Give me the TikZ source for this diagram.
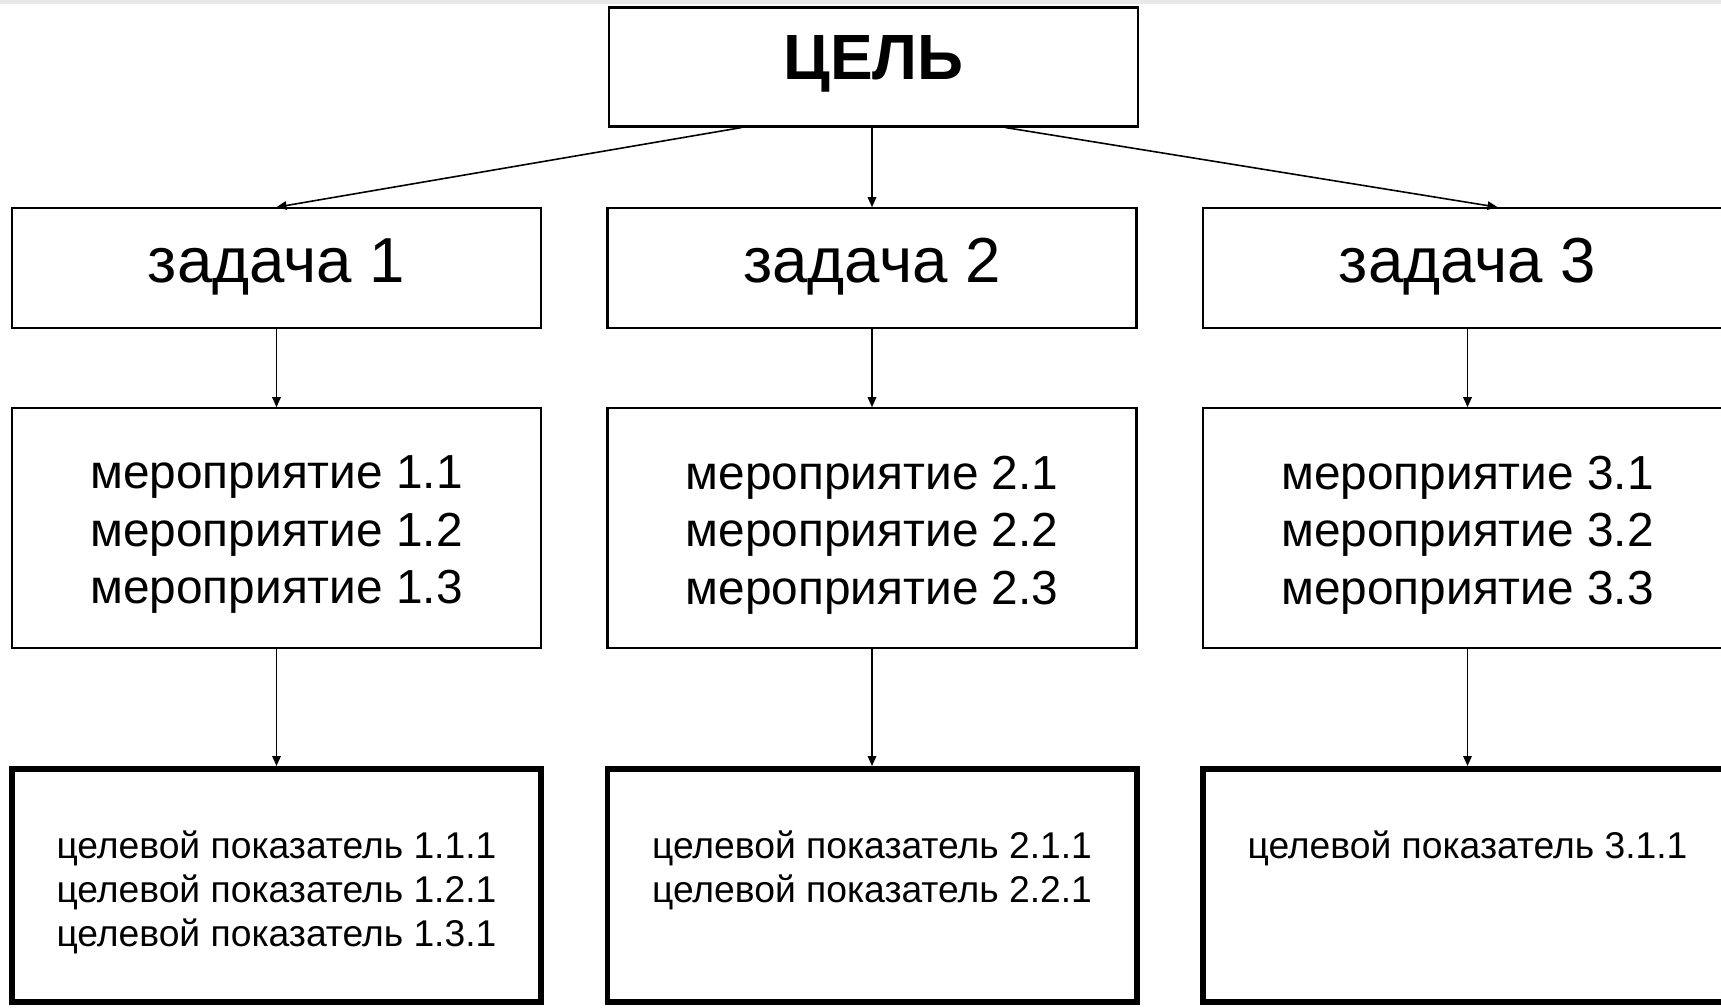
\documentclass[tikz,border=0pt]{standalone}
\usepackage{fontspec}
\setmainfont{Liberation Sans}
\usetikzlibrary{calc, positioning, arrows.meta}

\tikzset{
    thinbox/.style={draw, rectangle, line width=0.6pt, minimum width=5.29cm, inner sep=0pt},
    thickbox/.style={draw, rectangle, line width=1.7pt, minimum width=5.29cm, minimum height=2.33cm, inner sep=0pt},
    arr/.style={-{Triangle[length=1mm, width=0.85mm]}, line width=0.45pt},
    txt/.style={inner sep=0pt, align=left}
}

\begin{document}
\begin{tikzpicture}
    % page frame: 1721 x 1007 px, 0.01 cm per px, right column runs off the page
    \useasboundingbox (0,0) rectangle (17.21,-10.07);
    \clip (0,0) rectangle (17.21,-10.07);
    \fill[gray!18] (0,0) rectangle (17.21,-0.035);

    % ЦЕЛЬ (top): box, bold text a little above centre
    \node[thinbox, minimum height=1.19cm] (goal) at (8.735,-0.67) {};
    \node[txt, anchor=base, font=\bfseries\fontsize{18.2}{20}\selectfont] (goaltext) at (8.735,-0.79) {ЦЕЛЬ};

    % three columns: задача -> мероприятия -> целевые показатели
    \foreach \c/\x in {1/2.765, 2/8.72, 3/14.675} {
        \node[thinbox, minimum height=1.195cm] (task\c) at (\x,-2.68) {};
        \node[txt, anchor=base, font=\fontsize{18.1}{20}\selectfont] (tasktext\c) at (\x,-2.82) {задача \c};

        \node[thinbox, minimum height=2.395cm] (act\c) at (\x,-5.28) {};
        \node[txt, anchor=north, font=\fontsize{13.6}{16.4}\selectfont] (acttext\c) at (\x,-4.55)
            {мероприятие \c.1\\мероприятие \c.2\\мероприятие \c.3};

        \node[thickbox] (ind\c) at (\x,-8.855) {};

        \draw[arr] (task\c) -- (act\c);
        \draw[arr] (act\c) -- (ind\c);
    }

    % indicator texts, hung from the top of each thick box
    \node[txt, anchor=north, font=\fontsize{10.6}{12.5}\selectfont] (indtext1) at ([yshift=-0.64cm] ind1.north)
        {целевой показатель 1.1.1\\целевой показатель 1.2.1\\целевой показатель 1.3.1};
    \node[txt, anchor=north, font=\fontsize{10.6}{12.5}\selectfont] (indtext2) at ([yshift=-0.64cm] ind2.north)
        {целевой показатель 2.1.1\\целевой показатель 2.2.1};
    \node[txt, anchor=north, font=\fontsize{10.6}{12.5}\selectfont] (indtext3) at ([yshift=-0.64cm] ind3.north)
        {целевой показатель 3.1.1};

    % ЦЕЛЬ to the three tasks
    \draw[arr] ([xshift=-1.32cm] goal.south) -- (task1.north);
    \draw[arr] (task2.north |- goal.south) -- (task2.north);
    \draw[arr] ([xshift=1.32cm] goal.south) -- ([xshift=0.3cm] task3.north);
\end{tikzpicture}
\end{document}
